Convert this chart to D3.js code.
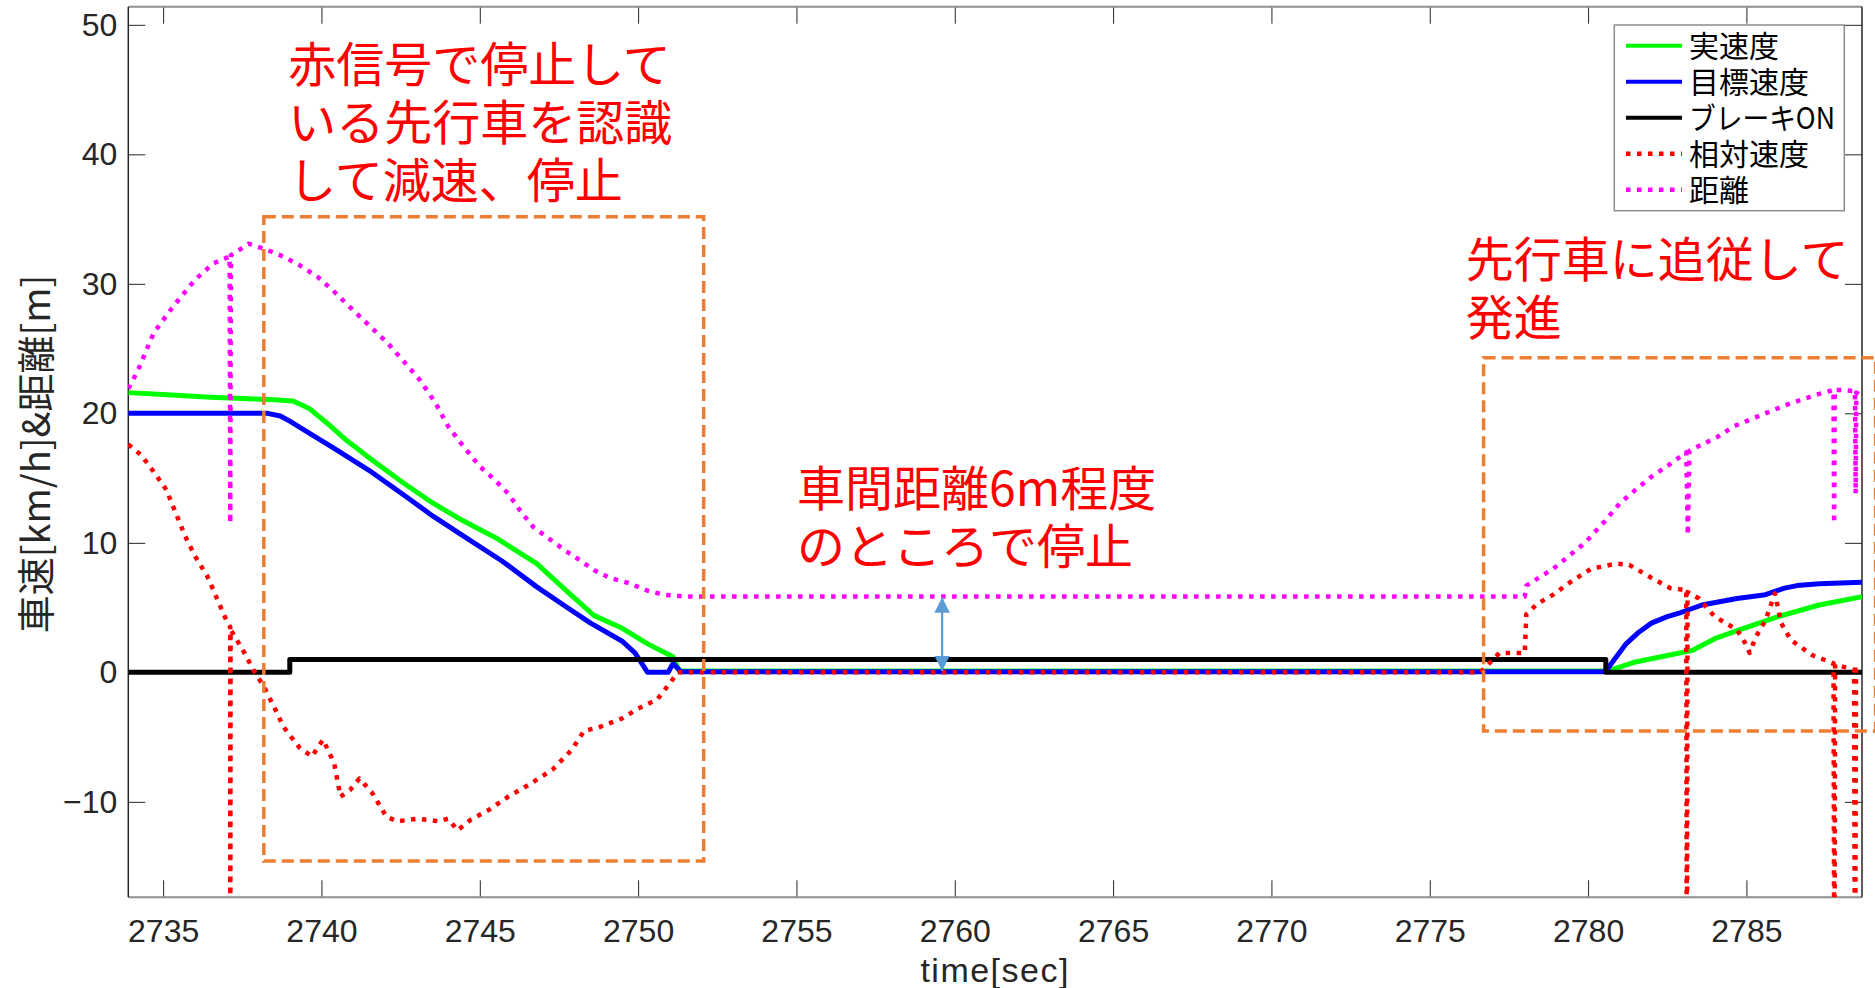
<!DOCTYPE html>
<html><head><meta charset="utf-8">
<script src="https://cdn.jsdelivr.net/npm/d3@7"></script>
<style>body{margin:0;background:#fff;} svg{display:block}</style>
</head><body>
<svg id="chart" width="1875" height="988"></svg>
<script>
// ---------- data ----------
const xTicks = [2735, 2740, 2745, 2750, 2755, 2760, 2765, 2770, 2775, 2780, 2785];
const yTicks = [-10, 0, 10, 20, 30, 40, 50];
const xDomain = [2733.9, 2788.65];
const yDomain = [-17.37, 51.4];
const seriesNames = ["実速度", "目標速度", "ブレーキON", "相対速度", "距離"];
const xLabel = "time[sec]";
const yLabel = "車速[km/h]&距離[m]";

const actualSpeed = [[2733.9,21.6],[2735.0,21.45],[2736.5,21.25],[2737.5,21.15],[2738.5,21.05],[2739.1,20.95],[2739.6,20.4],[2740.2,19.2],[2740.8,17.9],[2741.6,16.4],[2742.6,14.6],[2743.5,13.1],[2744.4,11.8],[2745.5,10.4],[2746.8,8.4],[2747.6,6.6],[2748.6,4.4],[2749.5,3.4],[2750.3,2.2],[2751.1,1.2],[2751.3,0.1],[2780.6,0.1],[2781.5,0.8],[2782.5,1.3],[2783.3,1.7],[2784.0,2.6],[2784.8,3.3],[2786.0,4.3],[2787.3,5.2],[2788.65,5.85]];

const targetSpeed = [[2733.9,20],[2738.3,20],[2738.7,19.8],[2739.0,19.4],[2739.6,18.5],[2740.4,17.3],[2741.5,15.6],[2742.6,13.7],[2743.5,12.1],[2744.5,10.5],[2745.7,8.6],[2746.8,6.6],[2747.7,5.1],[2748.5,3.8],[2749.5,2.4],[2749.9,1.5],[2750.3,0],[2750.95,0],[2751.1,0.7],[2751.35,0.05],[2780.55,0.05],[2780.8,0.9],[2781.2,2.2],[2781.6,3.1],[2782.0,3.8],[2782.5,4.3],[2782.9,4.6],[2783.6,5.2],[2784.7,5.7],[2785.6,6.0],[2786.2,6.5],[2786.6,6.7],[2787.3,6.85],[2788.65,6.95]];

const brakeOn = [[2733.9,0],[2739.0,1],[2780.56,0],[2788.65,0]];

const relSpeed = [[2733.9,17.6],[2734.3,16.8],[2734.7,15.5],[2735.1,14.1],[2735.7,10.5],[2736.0,9.0],[2736.4,7.4],[2736.7,5.7],[2737.0,4.0],[2737.12,3.5],[2737.12,-30],[2737.13,3.3],[2737.5,1.8],[2737.85,0.2],[2738.2,-1.2],[2738.5,-2.65],[2738.8,-4.2],[2739.3,-5.8],[2739.7,-6.5],[2740.05,-5.2],[2740.4,-7.0],[2740.6,-9.6],[2740.9,-9.1],[2741.2,-8.2],[2741.6,-9.3],[2742.05,-11.15],[2742.4,-11.5],[2743.05,-11.3],[2743.7,-11.5],[2744.0,-11.3],[2744.3,-12.2],[2744.7,-11.4],[2745.3,-10.6],[2745.9,-9.6],[2746.6,-8.6],[2747.3,-7.5],[2747.9,-6.0],[2748.3,-4.5],[2748.7,-4.3],[2749.5,-3.55],[2750.0,-2.8],[2750.6,-2.1],[2751.0,-0.85],[2751.25,0],[2776.6,0],[2776.8,0.5],[2777.2,1.5],[2778.0,1.5],[2778.05,4.5],[2778.4,5.3],[2778.9,6.0],[2779.4,6.9],[2780.1,8.0],[2780.9,8.4],[2781.3,8.3],[2782.0,7.3],[2782.6,6.5],[2783.1,6.35],[2783.12,-30],[2783.14,6.2],[2783.5,5.7],[2784.0,4.3],[2784.35,3.8],[2784.7,3.3],[2785.0,2.1],[2785.1,1.5],[2785.3,2.75],[2785.6,4.0],[2785.9,6.1],[2786.1,3.8],[2786.4,2.5],[2787.1,1.3],[2787.75,0.7],[2787.78,-30],[2787.8,0.6],[2788.4,0.2],[2788.43,-30],[2788.46,0.2],[2788.65,0.2]];

const distance = [[2733.9,21.9],[2734.2,23.3],[2734.7,26.2],[2735.3,28.2],[2736.0,30.3],[2736.6,31.6],[2737.1,32.1],[2737.12,11.5],[2737.14,32.2],[2737.7,33.1],[2738.3,32.6],[2738.8,32.1],[2739.3,31.45],[2739.9,30.5],[2740.4,29.4],[2740.9,28.2],[2741.5,26.8],[2742.1,25.4],[2742.6,24.0],[2743.1,22.6],[2743.6,20.8],[2744.0,19.0],[2744.5,17.4],[2745.0,15.9],[2745.5,14.8],[2745.9,13.8],[2746.3,12.4],[2746.7,11.2],[2747.2,10.3],[2747.7,9.4],[2748.2,8.6],[2748.6,7.9],[2749.1,7.3],[2749.7,6.9],[2750.3,6.3],[2750.8,6.0],[2751.5,5.85],[2778.0,5.85],[2778.05,6.7],[2778.9,8.0],[2779.4,9.0],[2779.9,10.0],[2780.5,11.6],[2781.0,13.05],[2781.5,14.1],[2782.0,15.1],[2782.6,16.1],[2783.1,17.0],[2783.15,10.6],[2783.2,17.1],[2783.6,17.6],[2784.1,18.2],[2784.6,19.0],[2785.2,19.6],[2785.7,20.1],[2786.2,20.6],[2786.8,21.1],[2787.3,21.5],[2787.75,21.8],[2787.77,11.5],[2787.79,21.8],[2788.1,21.8],[2788.43,21.7],[2788.45,13.8],[2788.47,21.6],[2788.65,21.3]];

// annotation boxes [t0, t1, v0, v1] and texts (data coordinates)
const boxes = [[2738.18, 2752.07, 35.18, -14.57], [2776.70, 2789.08, 24.29, -4.53]];
const notes = [
  {t: 2738.95, v: 45.6, lines: ["赤信号で停止して", "いる先行車を認識", "して減速、停止"]},
  {t: 2755.02, v: 12.85, lines: ["車間距離6m程度", "のところで停止"]},
  {t: 2776.14, v: 30.5, lines: ["先行車に追従して", "発進"]}
];
const gapArrow = [2759.6, 5.8, 0.1];

// ---------- drawing ----------
const svg = d3.select("#chart");
const x = d3.scaleLinear().domain(xDomain).range([128.3, 1862]);
const y = d3.scaleLinear().domain(yDomain).range([897.3, 6.7]);
const [L, R] = x.range(), [B, T] = y.range();
const axisColor = "#262626";
const tickFont = "'Liberation Sans', Arial, sans-serif";
const jpFont = "'Noto Sans CJK JP', sans-serif";

svg.append("rect").attr("x", 0).attr("y", 0).attr("width", 1875).attr("height", 988).attr("fill", "#fff");

svg.append("defs").append("clipPath").attr("id", "clip")
  .append("rect").attr("x", L).attr("y", T).attr("width", R - L).attr("height", B - T);

function styleAxis(g) {
  g.select(".domain").remove();
  g.selectAll(".tick line").attr("stroke", axisColor).attr("stroke-width", 1);
  g.selectAll(".tick text").attr("fill", axisColor).style("font-family", tickFont).style("font-size", "32px");
}
svg.append("g").attr("transform", `translate(0,${B})`)
  .call(d3.axisBottom(x).tickValues(xTicks).tickSize(-17).tickSizeOuter(0).tickPadding(21.5).tickFormat(d3.format("d")))
  .call(styleAxis);
svg.append("g").attr("transform", `translate(0,${T})`)
  .call(d3.axisTop(x).tickValues(xTicks).tickSize(-17).tickSizeOuter(0).tickFormat(""))
  .call(styleAxis);
svg.append("g").attr("transform", `translate(${L},0)`)
  .call(d3.axisLeft(y).tickValues(yTicks).tickSize(-17).tickSizeOuter(0).tickPadding(11))
  .call(styleAxis);
svg.append("g").attr("transform", `translate(${R},0)`)
  .call(d3.axisRight(y).tickValues(yTicks).tickSize(-17).tickSizeOuter(0).tickFormat(""))
  .call(styleAxis);

// frame
svg.append("line").attr("x1", L).attr("x2", R).attr("y1", T).attr("y2", T).attr("stroke", "#8f8f8f").attr("stroke-width", 2);
svg.append("line").attr("x1", L).attr("x2", R).attr("y1", B).attr("y2", B).attr("stroke", "#8f8f8f").attr("stroke-width", 2);
svg.append("line").attr("x1", L).attr("x2", L).attr("y1", T).attr("y2", B).attr("stroke", axisColor).attr("stroke-width", 1.5);
svg.append("line").attr("x1", R).attr("x2", R).attr("y1", T).attr("y2", B).attr("stroke", axisColor).attr("stroke-width", 1.5);

// series
const styles = [
  {data: actualSpeed, color: "#00ff00", dash: null, width: 5},
  {data: targetSpeed, color: "#0000ff", dash: null, width: 5},
  {data: brakeOn, color: "#000000", dash: null, width: 5, step: true},
  {data: relSpeed, color: "#ff0000", dash: "4.5 6.5", width: 4.5},
  {data: distance, color: "#ff00ff", dash: "4.5 6.5", width: 4.5}
];
const plot = svg.append("g").attr("clip-path", "url(#clip)");
styles.forEach(s => {
  const line = d3.line().x(d => x(d[0])).y(d => y(d[1]));
  if (s.step) line.curve(d3.curveStepAfter);
  plot.append("path").datum(s.data)
    .attr("d", line)
    .attr("fill", "none")
    .attr("stroke", s.color)
    .attr("stroke-width", s.width)
    .attr("stroke-linejoin", "round")
    .attr("stroke-dasharray", s.dash);
});

// annotation boxes
svg.selectAll(".box").data(boxes).enter().append("rect")
  .attr("x", d => x(d[0])).attr("y", d => y(d[2]))
  .attr("width", d => x(d[1]) - x(d[0])).attr("height", d => y(d[3]) - y(d[2]))
  .attr("fill", "none").attr("stroke", "#ED7D31").attr("stroke-width", 3.5).attr("stroke-dasharray", "12 6");

// annotation texts
notes.forEach(n => {
  const t = svg.append("text").attr("x", x(n.t)).attr("y", y(n.v))
    .attr("fill", "#ff0000").style("font-family", jpFont).style("font-size", "48px");
  n.lines.forEach((ln, i) => t.append("tspan").attr("x", x(n.t)).attr("dy", i === 0 ? 0 : 58).text(ln));
});

// arrow
const defs = svg.select("defs");
["start", "end"].forEach(k => {
  defs.append("marker").attr("id", "arr-" + k).attr("viewBox", "0 0 10 10")
    .attr("refX", 10).attr("refY", 5).attr("markerWidth", 7).attr("markerHeight", 7)
    .attr("markerUnits", "strokeWidth").attr("orient", "auto-start-reverse")
    .append("path").attr("d", "M0,0 L10,5 L0,10 z").attr("fill", "#5B9BD5");
});
svg.append("line")
  .attr("x1", x(gapArrow[0])).attr("x2", x(gapArrow[0]))
  .attr("y1", y(gapArrow[1])).attr("y2", y(gapArrow[2]))
  .attr("stroke", "#5B9BD5").attr("stroke-width", 2.2)
  .attr("marker-start", "url(#arr-start)").attr("marker-end", "url(#arr-end)");

// axis labels
svg.append("text").attr("x", (L + R) / 2).attr("y", 982).attr("text-anchor", "middle")
  .attr("fill", axisColor).style("font-family", tickFont).style("font-size", "34px").style("letter-spacing", "1.5px")
  .text(xLabel);
svg.append("text").attr("transform", "translate(33,454) rotate(-90)").attr("text-anchor", "middle")
  .attr("dominant-baseline", "central")
  .attr("fill", axisColor).style("font-family", jpFont).style("font-size", "38px")
  .text(yLabel);

// legend
const lg = svg.append("g");
lg.append("rect").attr("x", 1614.3).attr("y", 25).attr("width", 230).attr("height", 185.7)
  .attr("fill", "#fff").attr("stroke", "#8c8c8c").attr("stroke-width", 1.5);
styles.forEach((s, i) => {
  const cy = 45.7 + i * 36;
  lg.append("line").attr("x1", 1626).attr("x2", 1682).attr("y1", cy).attr("y2", cy)
    .attr("stroke", s.color).attr("stroke-width", s.dash ? 4.5 : 4).attr("stroke-dasharray", s.dash);
  const tx = lg.append("text").attr("x", 1689).attr("y", cy + 11)
    .attr("fill", "#000").style("font-family", jpFont).style("font-size", "30px")
    .text(seriesNames[i]);
  if (seriesNames[i] === "ブレーキON") tx.attr("textLength", 146).attr("lengthAdjust", "spacingAndGlyphs");
});
</script>
</body></html>
